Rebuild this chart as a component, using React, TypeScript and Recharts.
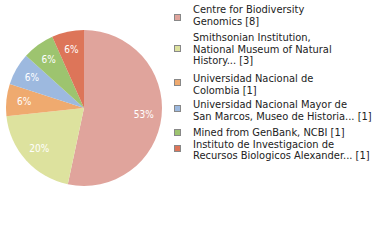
import { PieChart, Pie, Cell, Legend } from "recharts";

const institutions = [
  ["Centre for Biodiversity", "Genomics [8]"],
  ["Smithsonian Institution,", "National Museum of Natural", "History... [3]"],
  ["Universidad Nacional de", "Colombia [1]"],
  ["Universidad Nacional Mayor de", "San Marcos, Museo de Historia... [1]"],
  ["Mined from GenBank, NCBI [1]"],
  ["Instituto de Investigacion de", "Recursos Biologicos Alexander... [1]"],
];
const records = [8, 3, 1, 1, 1, 1];
const colors = ["#e0a49c", "#dde29e", "#efaa6f", "#9db9df", "#9dc46f", "#dd7559"];

const data = records.map((value, i) => ({ name: institutions[i].join(" "), value }));

// legend layout: square top and first baseline for each entry
const squareTops = [14, 45, 79, 105, 129, 145];
const firstBaselines = [13, 41, 82, 108, 136, 147.5];
const lineStep = 11.5;

const FONT = "'DejaVu Sans Condensed', 'DejaVu Sans', sans-serif";
const RAD = Math.PI / 180;

const renderLabel = (props: any) => {
  const { cx, cy, midAngle, outerRadius, percent } = props;
  const r = outerRadius * 0.77;
  const x = cx + r * Math.cos(-midAngle * RAD);
  const y = cy + r * Math.sin(-midAngle * RAD);
  return (
    <text x={x} y={y} fill="#fff" fontSize={10} fontFamily={FONT} textAnchor="middle" dominantBaseline="central">
      {Math.floor(percent * 100)}%
    </text>
  );
};

const renderLegend = () => (
  <svg width={380} height={240} style={{ position: "absolute", left: 0, top: 0 }}>
    {institutions.map((lines, i) => (
      <g key={i}>
        <rect x={174.5} y={squareTops[i] + 0.5} width={6} height={6} fill={colors[i]} stroke="#888" strokeWidth={1} />
        {lines.map((line, j) => (
          <text key={j} x={193} y={firstBaselines[i] + j * lineStep} fontSize={11} fontFamily={FONT} fill="#222">
            {line}
          </text>
        ))}
      </g>
    ))}
  </svg>
);

export default function App() {
  return (
    <div style={{ position: "absolute", left: 0, top: 0, width: 380, height: 240, background: "#fff" }}>
      <PieChart width={380} height={240} margin={{ top: 0, right: 0, bottom: 0, left: 0 }}>
        <Pie
          data={data}
          dataKey="value"
          cx={84}
          cy={108}
          outerRadius={78}
          startAngle={90}
          endAngle={-270}
          stroke="none"
          label={renderLabel}
          labelLine={false}
          isAnimationActive={false}
        >
          {data.map((_, i) => (
            <Cell key={i} fill={colors[i]} />
          ))}
        </Pie>
        <Legend content={renderLegend} wrapperStyle={{ left: 0, top: 0, width: 380, height: 240 }} />
      </PieChart>
    </div>
  );
}
